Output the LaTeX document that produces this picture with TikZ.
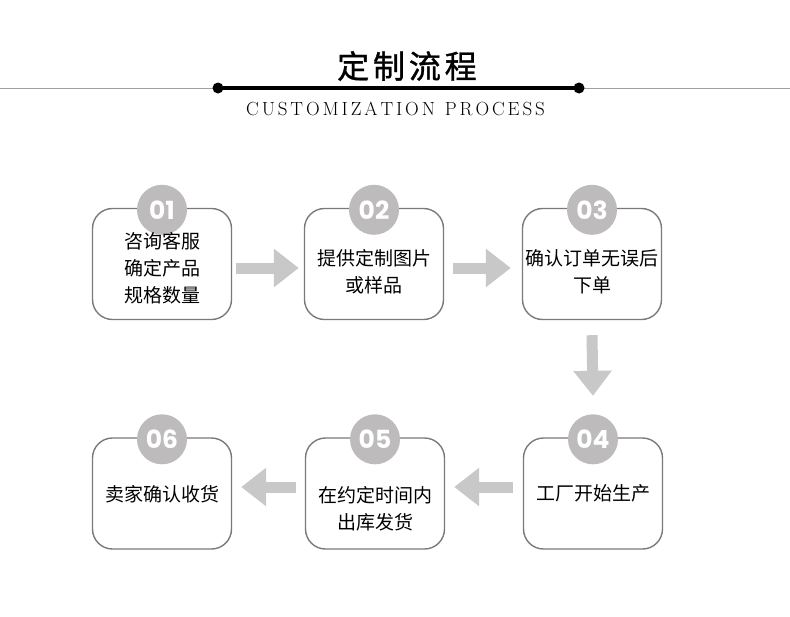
\documentclass[tikz,border=0pt]{standalone}
\usepackage{fontspec}
\usetikzlibrary{arrows.meta,calc}
\newfontfamily\cjk{Noto Sans CJK SC}
\newfontfamily\cjktitle[LetterSpace=12,FakeBold=1.2]{Noto Sans CJK SC}
\newfontfamily\numfont{Poppins}
\definecolor{boxgray}{HTML}{7A7A7A}
\definecolor{dotgray}{HTML}{BDBBBB}
\definecolor{arrowgray}{HTML}{C8C8C8}
\definecolor{linegray}{HTML}{A0A0A0}
\def\spacedword#1{\spacedaux#1\relax}
\def\spacedaux#1{\ifx#1\relax\else#1\hskip 2.9pt\expandafter\spacedaux\fi}
\begin{document}
\begin{tikzpicture}[x=1pt,y=-1pt,
  stepbox/.style={draw=boxgray, line width=1.4pt, rounded corners=20pt, minimum width=139pt, minimum height=111pt, fill=white, inner sep=0pt},
  numdot/.style={circle, fill=dotgray, minimum size=50pt, inner sep=0pt, text=white, font=\numfont\bfseries\fontsize{25}{25}\selectfont},
  steptext/.style={align=center, font=\cjk\fontsize{19}{27}\selectfont, inner sep=0pt},
  flow/.style={draw=arrowgray, line width=11pt, -{Triangle[length=25pt 0, width=37pt 0]}}]
\path[use as bounding box, fill=white] (0,0) rectangle (790,616);

% title
\node[inner sep=0pt] (title) at (407,66) {\cjktitle\fontsize{32}{32}\selectfont 定制流程};
\draw[linegray, line width=0.8pt] (0,88) -- (790,88);
\coordinate (lL) at (218,88);
\coordinate (lR) at (579,88);
\draw[black, line width=4pt] (lL) -- (lR);
\fill[black] (lL) circle (5.5pt);
\fill[black] (lR) circle (5.5pt);
\node[inner sep=0pt] (sub) at (397,108.5) {\fontsize{19}{19}\selectfont\spacedword{CUSTOMIZATION}\hskip 7pt\spacedword{PROCESS}\hskip -2.9pt};

% boxes
\node[stepbox] (b1) at (162,264) {};
\node[stepbox] (b2) at (374,264) {};
\node[stepbox] (b3) at (592,264) {};
\node[stepbox] (b4) at (593,493.5) {};
\node[stepbox] (b5) at (375,493.5) {};
\node[stepbox] (b6) at (162,493.5) {};

% number circles
\node[numdot] (c1) at ($(b1.north)+(0,2)$) {01};
\node[numdot] (c2) at ($(b2.north)+(0,2)$) {02};
\node[numdot] (c3) at ($(b3.north)+(0,2)$) {03};
\node[numdot] (c4) at ($(b4.north)+(0,2)$) {04};
\node[numdot] (c5) at ($(b5.north)+(0,2)$) {05};
\node[numdot] (c6) at ($(b6.north)+(0,2)$) {06};

% texts
\node[steptext] (t1) at ($(b1.center)+(0,4)$) {咨询客服\\确定产品\\规格数量};
\node[steptext] (t2) at ($(b2.center)+(0,7.5)$) {提供定制图片\\或样品};
\node[steptext] (t3) at ($(b3.center)+(0,7.5)$) {确认订单无误后\\下单};
\node[steptext] (t4) at ($(b4.center)+(0,-0.5)$) {工厂开始生产};
\node[steptext] (t5) at ($(b5.center)+(0,15)$) {在约定时间内\\出库发货};
\node[steptext] (t6) at ($(b6.center)+(0,1)$) {卖家确认收货};

% arrows
\draw[flow] ($(b1.east)+(4,4)$) -- ($(b2.west)+(-5,4)$);
\draw[flow] ($(b2.east)+(9,4)$) -- ($(b3.west)+(-11,4)$);
\draw[flow] ($(b3.south)+(0,15)$) -- ($(b4.north)+(0,-41.5)$);
\draw[flow] ($(b4.west)+(-10,-6.5)$) -- ($(b5.east)+(9,-6.5)$);
\draw[flow] ($(b5.west)+(-9,-6.5)$) -- ($(b6.east)+(9,-6.5)$);
\end{tikzpicture}
\end{document}
